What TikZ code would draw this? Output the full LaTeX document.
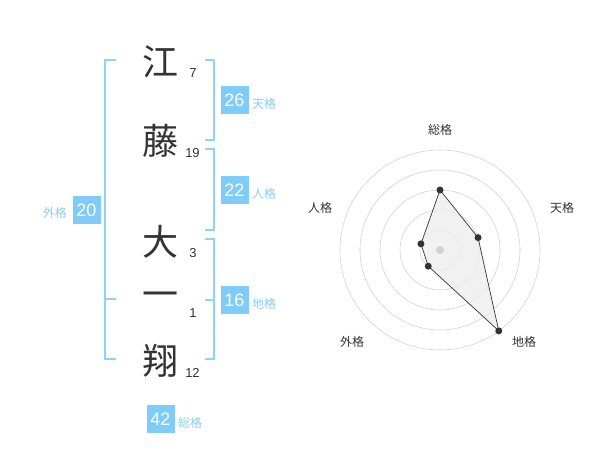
\documentclass[tikz,border=0pt]{standalone}
\usepackage{fontspec}
\setmainfont{Liberation Sans}
\newfontfamily\jp{Noto Sans CJK JP}
\definecolor{boxblue}{RGB}{128,204,248}
\definecolor{lineblue}{RGB}{140,210,250}
\definecolor{lblblue}{RGB}{135,205,245}
\definecolor{ink}{RGB}{51,51,51}
\definecolor{ring}{RGB}{210,210,210}
\definecolor{areafill}{RGB}{238,238,238}
\begin{document}
\begin{tikzpicture}[x=1pt,y=-1pt,
  kanji/.style={font=\jp\fontsize{36}{36}\selectfont, text=ink, inner sep=0pt},
  strokes/.style={font=\fontsize{13}{13}\selectfont, text=ink, inner sep=0pt},
  valbox/.style={fill=boxblue, text=white, font=\fontsize{18}{18}\selectfont, minimum width=28pt, minimum height=28pt, inner sep=0pt},
  gname/.style={font=\jp\fontsize{12}{12}\selectfont, text=lblblue, inner sep=0pt, anchor=west},
  rname/.style={font=\jp\fontsize{12}{12}\selectfont, text=ink, inner sep=0pt},
  brk/.style={draw=lineblue, line width=1.6pt},
  ringline/.style={draw=ring, line width=0.6pt},
  dot/.style={fill=ink, draw=none}]
\useasboundingbox (0,0) rectangle (600,470);
% characters
\node[kanji] (k1) at (160,62) {江};
\node[kanji] (k2) at (160,141) {藤};
\node[kanji] (k3) at (160,242) {大};
\node[kanji] (k4) at (160,300) {一};
\node[kanji] (k5) at (160,361) {翔};
\node[strokes] (s1) at (193,73) {7};
\node[strokes] (s2) at (192.5,153) {19};
\node[strokes] (s3) at (193,253) {3};
\node[strokes] (s4) at (193,313) {1};
\node[strokes] (s5) at (192.5,373) {12};
% left bracket
\coordinate (lt) at (105,60);
\coordinate (lb) at (105,359);
\draw[brk] (116,60) -- (lt) -- (lb) -- (116,359);
\draw[brk] (105,299) -- (116,299);
% right brackets
\draw[brk] (205,60) -- (214,60) -- (214,140) -- (205,140);
\draw[brk] (205,149) -- (214,149) -- (214,230) -- (205,230);
\draw[brk] (205,239) -- (214,239) -- (214,359) -- (205,359);
\draw[brk] (205,300) -- (214,300);
% value boxes
\node[valbox] (b26) at (234.5,100) {26};
\node[gname] (g26) at (252,104) {天格};
\node[valbox] (b22) at (234.5,190) {22};
\node[gname] (g22) at (252,194) {人格};
\node[valbox] (b16) at (234.5,300) {16};
\node[gname] (g16) at (252,304) {地格};
\node[valbox] (b20) at (86.5,210) {20};
\node[gname, anchor=east] (g20) at (67,213) {外格};
\node[valbox] (b42) at (160.5,419) {42};
\node[gname] (g42) at (178,423) {総格};
% radar
\coordinate (c) at (440,250);
\foreach \r in {20,40,60,80,100} \draw[ringline] (c) circle[radius=\r pt];
\path (c) ++(90:60pt) coordinate (p1);
\path (c) ++(18:40pt) coordinate (p2);
\path (c) ++(-54:100pt) coordinate (p3);
\path (c) ++(-126:20pt) coordinate (p4);
\path (c) ++(162:20pt) coordinate (p5);
\draw[fill=areafill, fill opacity=0.8, draw=ink, line width=0.7pt] (p1) -- (p2) -- (p3) -- (p4) -- (p5) -- cycle;
\fill[ring] (c) circle[radius=4pt];
\foreach \p in {p1,p2,p3,p4,p5} \fill[dot] (\p) circle[radius=3.5pt];
\node[rname] (r1) at (440,130) {総格};
\node[rname] (r2) at (562,208) {天格};
\node[rname] (r3) at (320,208) {人格};
\node[rname] (r4) at (352,342) {外格};
\node[rname] (r5) at (524,342) {地格};
\end{tikzpicture}
\end{document}
